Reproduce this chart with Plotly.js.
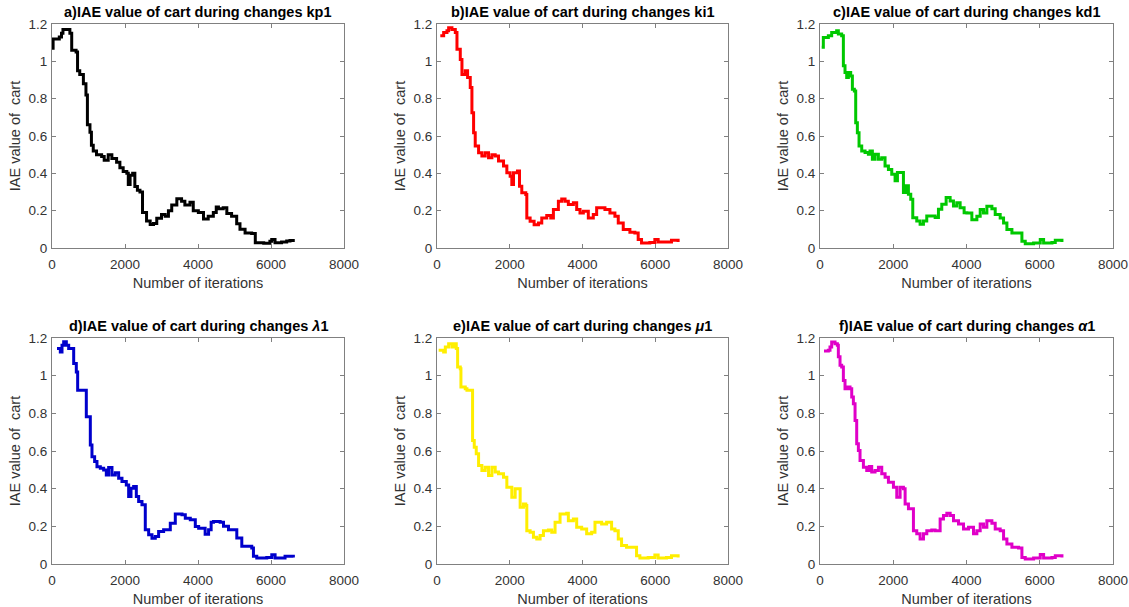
<!DOCTYPE html>
<html>
<head>
<meta charset="utf-8">
<script src="https://cdn.plot.ly/plotly-3.0.1.min.js"></script>
<style>
  html, body { margin: 0; padding: 0; background: #ffffff; }
  #chart { width: 1129px; height: 607px; }
</style>
</head>
<body>
<div id="chart"></div>
<script>
// IAE of the cart versus iteration count, one run per tuned parameter.

// a) kp1
const iterKp1 = [0, 30, 200, 260, 300, 450, 490, 540, 660, 700, 760, 860, 930, 970, 1040, 1080, 1130, 1220, 1360, 1430, 1540, 1640, 1770, 1860, 1950, 2050, 2090, 2140, 2210, 2270, 2340, 2410, 2480, 2590, 2690, 2780, 2870, 3000, 3100, 3190, 3280, 3420, 3550, 3640, 3780, 3870, 4010, 4150, 4280, 4420, 4500, 4560, 4690, 4790, 4920, 5060, 5150, 5290, 5470, 5570, 5800, 5970, 6020, 6110, 6290, 6430, 6520, 6610];
const iaeKp1  = [1.07, 1.12, 1.13, 1.15, 1.17, 1.17, 1.15, 1.06, 1.05, 0.95, 0.93, 0.88, 0.82, 0.66, 0.62, 0.55, 0.52, 0.50, 0.49, 0.47, 0.50, 0.48, 0.46, 0.43, 0.41, 0.40, 0.34, 0.39, 0.40, 0.33, 0.31, 0.30, 0.19, 0.145, 0.126, 0.131, 0.16, 0.18, 0.17, 0.20, 0.23, 0.264, 0.25, 0.23, 0.245, 0.20, 0.19, 0.155, 0.17, 0.19, 0.22, 0.21, 0.215, 0.185, 0.17, 0.13, 0.10, 0.08, 0.078, 0.028, 0.026, 0.036, 0.046, 0.028, 0.032, 0.037, 0.040, 0.032];

// b) ki1
const iterKi1 = [91, 183, 274, 320, 411, 503, 549, 640, 686, 777, 841, 914, 960, 1006, 1051, 1143, 1234, 1326, 1417, 1509, 1600, 1691, 1829, 1920, 2011, 2057, 2103, 2212, 2268, 2331, 2441, 2469, 2560, 2670, 2789, 2880, 3017, 3127, 3200, 3337, 3429, 3520, 3611, 3749, 3840, 3931, 4023, 4160, 4297, 4389, 4480, 4617, 4754, 4891, 4983, 5120, 5303, 5440, 5531, 5623, 5851, 5989, 6080, 6309, 6446, 6629];
const iaeKi1  = [1.137, 1.155, 1.164, 1.18, 1.17, 1.155, 1.065, 1.01, 0.93, 0.95, 0.913, 0.86, 0.725, 0.618, 0.546, 0.51, 0.493, 0.51, 0.483, 0.50, 0.493, 0.466, 0.439, 0.403, 0.385, 0.34, 0.403, 0.412, 0.331, 0.296, 0.287, 0.161, 0.143, 0.125, 0.134, 0.161, 0.174, 0.161, 0.206, 0.251, 0.263, 0.251, 0.233, 0.242, 0.206, 0.188, 0.197, 0.161, 0.179, 0.215, 0.215, 0.206, 0.188, 0.17, 0.134, 0.099, 0.084, 0.081, 0.045, 0.027, 0.030, 0.045, 0.032, 0.032, 0.041, 0.032];

// c) kd1
const iterKd1 = [46, 91, 228, 319, 455, 501, 592, 638, 683, 729, 774, 838, 884, 938, 975, 1020, 1066, 1139, 1230, 1321, 1366, 1430, 1503, 1594, 1685, 1776, 1868, 1959, 2050, 2114, 2232, 2278, 2350, 2414, 2478, 2533, 2642, 2733, 2824, 2915, 3052, 3144, 3234, 3325, 3444, 3553, 3644, 3735, 3826, 3935, 4009, 4146, 4283, 4374, 4465, 4556, 4693, 4784, 4920, 5012, 5103, 5240, 5422, 5513, 5604, 5832, 6014, 6105, 6333, 6424, 6606];
const iaeKd1  = [1.075, 1.128, 1.137, 1.155, 1.164, 1.146, 1.137, 0.976, 0.94, 0.913, 0.94, 0.922, 0.85, 0.841, 0.671, 0.618, 0.546, 0.52, 0.511, 0.502, 0.52, 0.475, 0.502, 0.475, 0.484, 0.439, 0.421, 0.395, 0.36, 0.404, 0.404, 0.297, 0.333, 0.288, 0.261, 0.162, 0.145, 0.127, 0.145, 0.172, 0.172, 0.163, 0.207, 0.234, 0.27, 0.252, 0.225, 0.243, 0.216, 0.189, 0.188, 0.152, 0.17, 0.206, 0.188, 0.224, 0.21, 0.179, 0.161, 0.134, 0.099, 0.081, 0.081, 0.036, 0.023, 0.027, 0.045, 0.027, 0.030, 0.041, 0.032];

// d) lambda1
const iterLam1 = [137, 228, 274, 320, 393, 457, 575, 594, 666, 703, 913, 940, 1031, 1050, 1095, 1168, 1232, 1324, 1415, 1488, 1552, 1643, 1735, 1826, 1917, 2036, 2100, 2164, 2237, 2310, 2374, 2465, 2556, 2648, 2739, 2830, 2921, 3058, 3150, 3241, 3378, 3561, 3652, 3789, 3926, 4018, 4196, 4290, 4360, 4424, 4607, 4698, 4835, 4971, 5063, 5200, 5336, 5473, 5519, 5610, 5884, 6021, 6112, 6385, 6613];
const iaeLam1  = [1.144, 1.126, 1.162, 1.18, 1.162, 1.144, 1.144, 1.065, 1.02, 0.923, 0.923, 0.782, 0.782, 0.632, 0.57, 0.544, 0.517, 0.508, 0.499, 0.472, 0.513, 0.472, 0.485, 0.455, 0.438, 0.42, 0.358, 0.402, 0.411, 0.358, 0.332, 0.314, 0.182, 0.155, 0.137, 0.146, 0.173, 0.182, 0.182, 0.217, 0.265, 0.262, 0.243, 0.235, 0.199, 0.19, 0.158, 0.182, 0.222, 0.226, 0.222, 0.2, 0.182, 0.182, 0.138, 0.094, 0.094, 0.085, 0.041, 0.032, 0.035, 0.049, 0.032, 0.041, 0.035];

// e) mu1
const iterMu1 = [46, 183, 229, 320, 411, 457, 530, 567, 640, 658, 777, 823, 942, 978, 1024, 1079, 1143, 1234, 1326, 1417, 1509, 1600, 1691, 1829, 1920, 2057, 2149, 2240, 2286, 2377, 2441, 2469, 2560, 2651, 2743, 2834, 2926, 3063, 3154, 3246, 3383, 3566, 3611, 3749, 3840, 3977, 4114, 4251, 4343, 4434, 4526, 4663, 4800, 4891, 4983, 5074, 5211, 5394, 5486, 5577, 5806, 5989, 6080, 6309, 6446, 6629];
const iaeMu1  = [1.135, 1.126, 1.152, 1.17, 1.152, 1.17, 1.144, 1.046, 1.037, 0.94, 0.931, 0.922, 0.922, 0.656, 0.62, 0.585, 0.523, 0.496, 0.514, 0.47, 0.514, 0.488, 0.479, 0.461, 0.408, 0.355, 0.40, 0.40, 0.301, 0.319, 0.31, 0.177, 0.168, 0.142, 0.133, 0.151, 0.177, 0.181, 0.168, 0.222, 0.266, 0.27, 0.23, 0.239, 0.195, 0.186, 0.16, 0.168, 0.222, 0.222, 0.213, 0.222, 0.186, 0.177, 0.133, 0.098, 0.089, 0.089, 0.044, 0.032, 0.035, 0.048, 0.032, 0.035, 0.044, 0.035];

// f) alpha1
const iterAlp1 = [109, 228, 273, 319, 410, 474, 501, 547, 592, 638, 683, 747, 820, 866, 911, 957, 1002, 1048, 1093, 1185, 1276, 1349, 1412, 1503, 1595, 1686, 1777, 1868, 2005, 2096, 2187, 2278, 2324, 2415, 2506, 2551, 2642, 2733, 2825, 2916, 3052, 3144, 3280, 3371, 3463, 3554, 3645, 3782, 3918, 4055, 4192, 4283, 4374, 4465, 4556, 4693, 4784, 4920, 5012, 5103, 5240, 5422, 5513, 5604, 5832, 6014, 6105, 6333, 6424, 6606];
const iaeAlp1  = [1.131, 1.135, 1.152, 1.179, 1.17, 1.161, 1.10, 1.055, 1.046, 0.975, 0.931, 0.94, 0.931, 0.887, 0.851, 0.762, 0.638, 0.603, 0.55, 0.514, 0.496, 0.518, 0.488, 0.496, 0.514, 0.479, 0.461, 0.434, 0.408, 0.355, 0.408, 0.40, 0.319, 0.293, 0.293, 0.177, 0.16, 0.133, 0.16, 0.177, 0.181, 0.177, 0.239, 0.257, 0.27, 0.257, 0.23, 0.213, 0.186, 0.195, 0.16, 0.177, 0.213, 0.195, 0.23, 0.216, 0.186, 0.177, 0.133, 0.106, 0.089, 0.085, 0.035, 0.027, 0.032, 0.05, 0.032, 0.035, 0.044, 0.035];

const panelTitles = [
  'a)IAE value of cart during changes kp1',
  'b)IAE value of cart during changes ki1',
  'c)IAE value of cart during changes kd1',
  'd)IAE value of cart during changes <i>λ</i>1',
  'e)IAE value of cart during changes <i>μ</i>1',
  'f)IAE value of cart during changes <i>α</i>1'
];
const xTickVals = [0, 2000, 4000, 6000, 8000];
const xTickText = ['0', '2000', '4000', '6000', '8000'];
const yTickVals = [0, 0.2, 0.4, 0.6, 0.8, 1.0, 1.2];
const yTickText = ['0', '0.2', '0.4', '0.6', '0.8', '1', '1.2'];
const xLabel = 'Number of iterations';
const yLabel = 'IAE value of&nbsp; cart';

const seriesX = [iterKp1, iterKi1, iterKd1, iterLam1, iterMu1, iterAlp1];
const seriesY = [iaeKp1, iaeKi1, iaeKd1, iaeLam1, iaeMu1, iaeAlp1];
const lineColors = ['#000000', '#ff0000', '#00c800', '#0000cc', '#ffee00', '#e000c8'];

// Panel boxes in pixels: [left, right] columns and [top, bottom] rows
const W = 1129, H = 607;
const cols = [[52, 344], [437, 728], [820, 1113]];
const rows = [[24, 248], [338, 564]];

const fontFam = '"Liberation Sans", Arial, Helvetica, sans-serif';
const traces = [];
const layout = {
  width: W, height: H,
  margin: {l: 0, r: 0, t: 0, b: 0},
  paper_bgcolor: '#ffffff',
  plot_bgcolor: '#ffffff',
  showlegend: false,
  font: {family: fontFam, color: '#262626', size: 13.5},
  annotations: []
};

for (let i = 0; i < 6; i++) {
  const c = cols[i % 3], r = rows[Math.floor(i / 3)];
  const n = i + 1;
  const xa = 'xaxis' + (n === 1 ? '' : n), ya = 'yaxis' + (n === 1 ? '' : n);
  const xr = 'x' + (n === 1 ? '' : n), yr = 'y' + (n === 1 ? '' : n);

  traces.push({
    type: 'scatter', mode: 'lines',
    x: seriesX[i], y: seriesY[i],
    xaxis: xr, yaxis: yr,
    line: {color: lineColors[i], width: 3, shape: 'hv'},
    hoverinfo: 'x+y'
  });

  const common = {
    showgrid: false, zeroline: false,
    showline: true, linecolor: '#808080', linewidth: 1,
    mirror: 'ticks', ticks: 'inside', ticklen: 4, tickcolor: '#808080',
    tickfont: {family: fontFam, size: 13.5, color: '#333333'}
  };
  layout[xa] = Object.assign({}, common, {
    domain: [c[0] / W, c[1] / W],
    range: [0, 8000], anchor: yr,
    tickvals: xTickVals, ticktext: xTickText,
    ticklabelstandoff: 4,
    title: {text: xLabel, font: {family: fontFam, size: 14.5, color: '#333333'}, standoff: 6}
  });
  layout[ya] = Object.assign({}, common, {
    domain: [1 - r[1] / H, 1 - r[0] / H],
    range: [0, 1.2], anchor: xr,
    tickvals: yTickVals, ticktext: yTickText,
    ticklabelstandoff: 1,
    title: {text: yLabel, font: {family: fontFam, size: 14.5, color: '#333333'}, standoff: 4}
  });

  layout.annotations.push({
    text: '<b>' + panelTitles[i] + '</b>',
    xref: 'paper', yref: 'paper',
    x: (c[0] + c[1]) / 2 / W, y: 1 - (r[0] - 2) / H,
    xanchor: 'center', yanchor: 'bottom', showarrow: false,
    font: {family: fontFam, size: 14.5, color: '#000000'}
  });
}

Plotly.newPlot('chart', traces, layout, {displayModeBar: false, staticPlot: true});
</script>
</body>
</html>
